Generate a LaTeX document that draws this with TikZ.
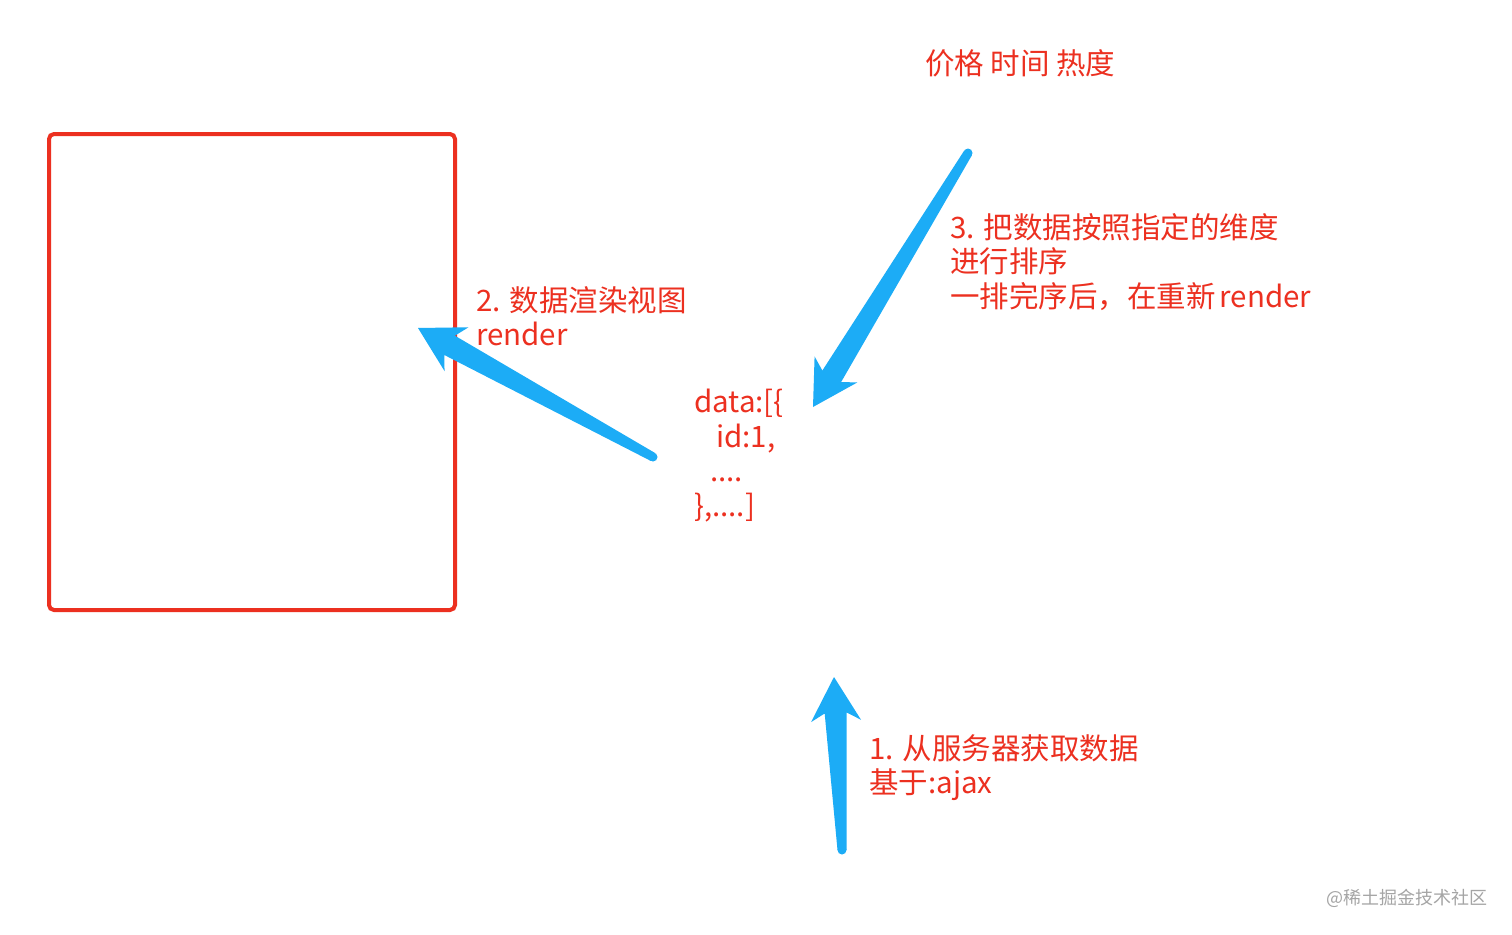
\documentclass[tikz,border=0pt]{standalone}
\usepackage{fontspec}
\setmainfont{Noto Sans CJK SC}
\usepackage{tikz}
\usetikzlibrary{calc}

\definecolor{notered}{RGB}{236,48,32}
\definecolor{arrowblue}{RGB}{28,172,246}
\definecolor{markgray}{RGB}{165,165,165}

% tapered arrow from tail #1 to tip #2
\newcommand{\fatarrow}[2]{%
  \coordinate (B) at ($(#2)!36pt!(#1)$);
  \coordinate (W) at ($(#2)!44pt!(#1)$);
  \fill[arrowblue, line join=round]
    ($(#1)!4.5pt!90:(#2)$) -- ($(B)!11pt!-90:(#1)$) -- ($(W)!25pt!-90:(#1)$)
    -- (#2) -- ($(W)!25pt!90:(#1)$) -- ($(B)!11pt!90:(#1)$)
    -- ($(#1)!4.5pt!-90:(#2)$) -- cycle;
  \fill[arrowblue] (#1) circle (4.5pt);
}

\begin{document}
\begin{tikzpicture}[x=1pt, y=-1pt,
    note/.style={text=notered, font=\fontsize{29.5}{34.6}\selectfont, align=left, inner sep=0pt, anchor=north west}]
  \useasboundingbox[fill=white] (0,0) rectangle (1512,934);
  % Nodes
  \node[draw=notered, line width=4pt, rounded corners=5pt, minimum width=406pt, minimum height=476pt, inner sep=0pt] (view) at (252,372) {};
  \node[note] (dims) at (925,49) {价格 时间 热度};
  \node[note] (sortnote) at (950,213) {3. 把数据按照指定的维度\\进行排序\\一排完序后，在重新\hspace{4pt}render};
  \node[note] (rendernote) at (476,286) {2. 数据渲染视图\\render};
  \node[note] (data) at (694,389) {data:[\{\\\hspace*{22pt}id:1,\\\hspace*{16pt}....\\\},....]};
  \node[note] (ajaxnote) at (869,734) {1. 从服务器获取数据\\基于:ajax};
  \node[text=markgray, font=\fontsize{18}{20}\selectfont, inner sep=0pt] (mark) at (1407,898) {@稀土掘金技术社区};
  % Edges
  \coordinate (t1) at (842,850);
  \coordinate (h1) at (834,677);
  \coordinate (t2) at (653,457);
  \coordinate (h2) at (418,328);
  \coordinate (t3) at (968,153);
  \coordinate (h3) at (813,407);
  \fatarrow{t1}{h1}
  \fatarrow{t2}{h2}
  \fatarrow{t3}{h3}
\end{tikzpicture}
\end{document}
